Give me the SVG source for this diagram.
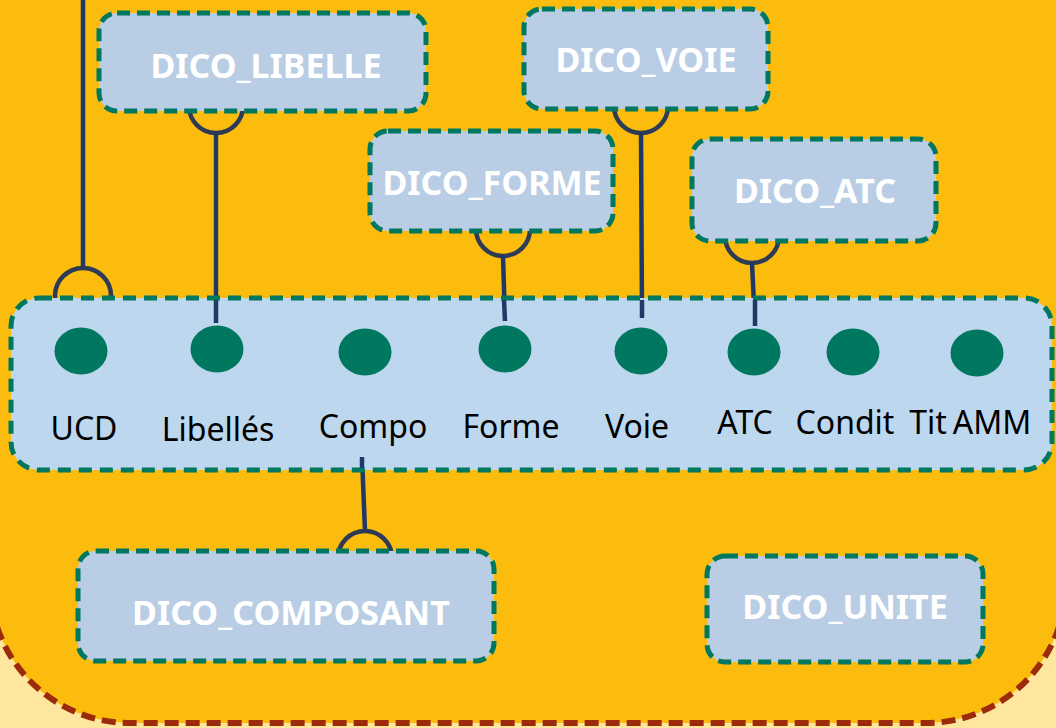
<svg xmlns="http://www.w3.org/2000/svg" width="1056" height="728" viewBox="0 0 1056 728">
  <style>
    .dico rect { fill: #B9CDE5; stroke: #00775F; stroke-width: 5; stroke-dasharray: 13 7; }
    .dico text { font-family: "Noto Sans", "Liberation Sans", sans-serif; font-weight: 700; font-size: 34px; fill: #FFFFFF; text-anchor: middle; }
    .field { fill: #00775F; }
    .flabel { font-family: "Noto Sans", "Liberation Sans", sans-serif; font-size: 32px; fill: #000000; text-anchor: middle; }
    .link { stroke: #1F3864; stroke-width: 4.5; fill: none; }
    .socket { stroke: #2E3B55; stroke-width: 4.5; fill: none; }
  </style>

  <!-- page background -->
  <rect x="0" y="0" width="1056" height="728" fill="#FFE69F"/>

  <!-- outer package area -->
  <g id="package">
    <rect x="-10" y="-220" width="1076" height="943" rx="140" ry="140" fill="#FBBC0E" stroke="#9C2B0C" stroke-width="6" stroke-dasharray="14 7"/>
  </g>

  <!-- connectors (drawn under the boxes) -->
  <g id="connectors">
    <!-- UCD: external line ending in a socket on the table top -->
    <line class="link" x1="83" y1="0" x2="83" y2="268"/>
    <circle class="socket" cx="83" cy="296" r="28"/>
    <!-- DICO_LIBELLE -> Libellés -->
    <circle class="socket" cx="216" cy="106" r="27"/>
    <line class="link" x1="216" y1="133" x2="216" y2="323"/>
    <!-- DICO_FORME -> Forme -->
    <circle class="socket" cx="503" cy="229" r="27"/>
    <line class="link" x1="503" y1="256" x2="505" y2="321"/>
    <!-- DICO_VOIE -> Voie -->
    <circle class="socket" cx="641" cy="106" r="27"/>
    <line class="link" x1="641" y1="133" x2="642" y2="318"/>
    <!-- DICO_ATC -> ATC -->
    <circle class="socket" cx="752" cy="236" r="27"/>
    <line class="link" x1="752" y1="263" x2="755" y2="326"/>
    <!-- Compo -> DICO_COMPOSANT -->
    <line class="link" x1="362" y1="457" x2="365" y2="531"/>
    <circle class="socket" cx="365" cy="558" r="27"/>
  </g>

  <!-- main table with its fields -->
  <g id="table">
    <rect x="11" y="298" width="1041" height="172" rx="28" ry="28" fill="#BDD7EE" stroke="#00775F" stroke-width="5" stroke-dasharray="13 8"/>
    <!-- link ends that sit inside the table -->
    <line class="link" x1="216" y1="300" x2="216" y2="323"/>
    <line class="link" x1="504" y1="300" x2="505" y2="321"/>
    <line class="link" x1="642" y1="300" x2="642" y2="318"/>
    <line class="link" x1="755" y1="300" x2="755" y2="326"/>
    <line class="link" x1="362" y1="457" x2="362" y2="468"/>

    <g id="f-ucd"><ellipse class="field" cx="81" cy="351" rx="26.5" ry="23.5"/><text class="flabel" x="84" y="440">UCD</text></g>
    <g id="f-libelles"><ellipse class="field" cx="217" cy="349" rx="26.5" ry="23.5"/><text class="flabel" x="218" y="441">Libellés</text></g>
    <g id="f-compo"><ellipse class="field" cx="365" cy="352" rx="26.5" ry="23.5"/><text class="flabel" x="373" y="438">Compo</text></g>
    <g id="f-forme"><ellipse class="field" cx="505" cy="349" rx="26.5" ry="23.5"/><text class="flabel" x="511" y="438">Forme</text></g>
    <g id="f-voie"><ellipse class="field" cx="641" cy="351" rx="26.5" ry="23.5"/><text class="flabel" x="637" y="438">Voie</text></g>
    <g id="f-atc"><ellipse class="field" cx="754" cy="352" rx="26.5" ry="23.5"/><text class="flabel" x="745" y="434">ATC</text></g>
    <g id="f-condit"><ellipse class="field" cx="853" cy="352" rx="26.5" ry="23.5"/><text class="flabel" x="845" y="434">Condit</text></g>
    <text class="flabel" x="928" y="434">Tit</text>
    <g id="f-amm"><ellipse class="field" cx="977" cy="353" rx="26.5" ry="23.5"/><text class="flabel" x="992" y="434">AMM</text></g>
  </g>

  <!-- dictionary tables -->
  <g id="dico-libelle" class="dico">
    <rect x="99" y="13" width="327" height="98" rx="18"/>
    <text x="266" y="78">DICO_LIBELLE</text>
  </g>
  <g id="dico-voie" class="dico">
    <rect x="524" y="9" width="244" height="100" rx="18"/>
    <text x="646" y="72">DICO_VOIE</text>
  </g>
  <g id="dico-forme" class="dico">
    <rect x="370" y="131" width="243" height="100" rx="18"/>
    <text x="492" y="195">DICO_FORME</text>
  </g>
  <g id="dico-atc" class="dico">
    <rect x="692" y="139" width="244" height="102" rx="18"/>
    <text x="815" y="203">DICO_ATC</text>
  </g>
  <g id="dico-composant" class="dico">
    <rect x="78" y="551" width="416" height="110" rx="18"/>
    <text x="291" y="625">DICO_COMPOSANT</text>
  </g>
  <g id="dico-unite" class="dico">
    <rect x="707" y="556" width="276" height="106" rx="18"/>
    <text x="845" y="619">DICO_UNITE</text>
  </g>
</svg>
